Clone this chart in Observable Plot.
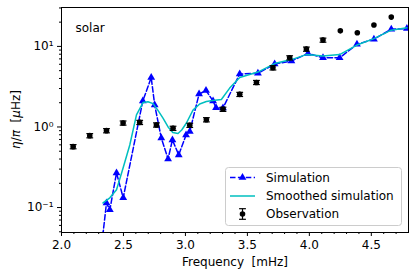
<!DOCTYPE html>
<html>
<head>
<meta charset="utf-8">
<script src="https://cdn.jsdelivr.net/npm/d3@7"></script>
<script src="https://cdn.jsdelivr.net/npm/@observablehq/plot@0.6"></script>
<style>
  html, body { margin: 0; padding: 0; background: white; }
  svg { font-family: "DejaVu Sans", sans-serif; }
</style>
</head>
<body>
<div id="chart"></div>
<script>
// Observation (mHz, µHz) with error
const obsFreq = [2.094, 2.228, 2.363, 2.497, 2.631, 2.766, 2.900, 3.035, 3.169, 3.303, 3.438, 3.573, 3.706, 3.841, 3.976, 4.110, 4.250, 4.387, 4.521, 4.661];
const obsEta  = [0.570, 0.780, 0.900, 1.12, 1.14, 1.06, 0.963, 1.05, 1.23, 1.66, 2.54, 3.57, 5.43, 7.22, 9.26, 11.97, 15.6, 14.8, 18.4, 23.1];
const obsErr  = [0.034, 0.047, 0.054, 0.067, 0.068, 0.064, 0.058, 0.063, 0.074, 0.1, 0.15, 0.21, 0.33, 0.43, 0.55, 0.7, 0, 0, 0, 0];

// Simulation
const simFreq = [2.333, 2.363, 2.390, 2.444, 2.498, 2.656, 2.724, 2.752, 2.805, 2.860, 2.895, 2.946, 3.005, 3.035, 3.110, 3.166, 3.223, 3.247, 3.303, 3.438, 3.585, 3.720, 3.855, 3.989, 4.110, 4.244, 4.384, 4.521, 4.661, 4.787];
const simEta  = [0.0446, 0.114, 0.0936, 0.269, 0.132, 2.10, 4.11, 1.87, 0.731, 0.401, 0.690, 0.450, 0.796, 0.880, 2.56, 2.83, 2.10, 1.73, 1.72, 4.54, 4.63, 6.04, 6.58, 8.19, 7.22, 7.22, 10.6, 12.3, 16.3, 16.7];

// Smoothed simulation
const smoothFreq = [2.335, 2.390, 2.444, 2.497, 2.551, 2.605, 2.658, 2.698, 2.739, 2.777, 2.819, 2.860, 2.898, 2.940, 2.970, 3.008, 3.061, 3.115, 3.169, 3.220, 3.290, 3.357, 3.438, 3.585, 3.720, 3.855, 3.976, 4.110, 4.244, 4.384, 4.521, 4.661, 4.787];
const smoothEta  = [0.114, 0.132, 0.166, 0.310, 0.598, 1.41, 2.01, 2.06, 1.95, 1.62, 1.29, 1.00, 0.855, 0.831, 0.918, 1.12, 1.62, 1.93, 2.07, 2.13, 2.19, 3.04, 4.11, 4.80, 6.12, 6.86, 7.91, 7.59, 7.91, 10.4, 12.5, 15.9, 17.0];

const xMajor = [2.0, 2.5, 3.0, 3.5, 4.0, 4.5];
const yMajor = [0.1, 1, 10];
const yLabels = ["10⁻¹", "10⁰", "10¹"];

const obs = obsFreq.map((f, i) => ({f, eta: obsEta[i], lo: obsEta[i] - obsErr[i], hi: obsEta[i] + obsErr[i], err: obsErr[i]}));
const sim = simFreq.map((f, i) => ({f, eta: simEta[i]}));
const smooth = smoothFreq.map((f, i) => ({f, eta: smoothEta[i]}));
const obsWithErr = obs.filter(d => d.err > 0);

const xMinor = d3.range(20, 48).map(v => v / 10).filter(v => !xMajor.some(m => Math.abs(m - v) < 1e-9));
const yMinor = [];
for (const dec of [0.01, 0.1, 1, 10]) for (let k = 2; k <= 9; k++) { const v = k * dec; if (v >= 0.049 && v <= 30.4) yMinor.push(v); }

const capSymbol = {
  draw(ctx, size) {
    const r = Math.sqrt(size / Math.PI);
    ctx.moveTo(-r, 0);
    ctx.lineTo(r, 0);
  }
};

const simColor = "#0000ff";
const smoothColor = "#00bfbf";

const chart = Plot.plot({
  width: 416,
  height: 275,
  marginLeft: 61,
  marginRight: 8,
  marginTop: 7,
  marginBottom: 43,
  style: {fontFamily: "DejaVu Sans, sans-serif", fontSize: "12px", color: "black", background: "white", overflow: "visible"},
  x: {domain: [2.0, 4.8]},
  y: {type: "log", domain: [0.049, 30.4]},
  marks: [
    Plot.axisX({ticks: xMinor, tickSize: 2, tickFormat: () => "", label: null}),
    Plot.axisX({ticks: xMajor, tickSize: 4, tickPadding: 4, tickFormat: d => d.toFixed(1), label: null, fontSize: 12}),
    Plot.axisY({ticks: yMinor, tickSize: 2, tickFormat: () => "", label: null}),
    Plot.axisY({ticks: yMajor, tickSize: 4, tickPadding: 4, tickFormat: d => yLabels[yMajor.indexOf(d)], label: null, fontSize: 12}),
    Plot.line(sim, {x: "f", y: "eta", stroke: simColor, strokeWidth: 1.5, strokeDasharray: "5.5,2.4", clip: true}),
    Plot.dot(sim, {x: "f", y: "eta", symbol: "triangle", r: 2.9, fill: simColor, stroke: "none", clip: true}),
    Plot.line(smooth, {x: "f", y: "eta", stroke: smoothColor, strokeWidth: 1.5, clip: true}),
    Plot.ruleX(obsWithErr, {x: "f", y1: "lo", y2: "hi", stroke: "black", strokeWidth: 1.2}),
    Plot.dot(obsWithErr, {x: "f", y: "lo", symbol: capSymbol, r: 3.4, stroke: "black", strokeWidth: 1.2, fill: "none"}),
    Plot.dot(obsWithErr, {x: "f", y: "hi", symbol: capSymbol, r: 3.4, stroke: "black", strokeWidth: 1.2, fill: "none"}),
    Plot.dot(obs, {x: "f", y: "eta", r: 2.8, fill: "black", stroke: "none"}),
    Plot.frame({stroke: "black", strokeWidth: 1}),
    Plot.text(["solar"], {frameAnchor: "top-left", dx: 14, dy: 21, textAnchor: "start", lineAnchor: "middle", fontSize: 12, fill: "black"}),
    Plot.text(["Frequency  [mHz]"], {frameAnchor: "bottom", dy: 29.5, lineAnchor: "middle", fontSize: 12, fill: "black"})
  ]
});

document.getElementById("chart").appendChild(chart);

// Y axis label and legend
const svg = d3.select(chart);
const ylab = svg.append("text")
  .attr("transform", "translate(16,119.5) rotate(-90)")
  .attr("text-anchor", "middle")
  .attr("dy", "0.35em")
  .attr("font-size", 12)
  .attr("fill", "black")
  .style("white-space", "pre");
ylab.append("tspan").attr("font-style", "italic").text("η");
ylab.append("tspan").text("/");
ylab.append("tspan").attr("font-style", "italic").text("π");
ylab.append("tspan").text("  [");
ylab.append("tspan").attr("font-style", "italic").text("μ");
ylab.append("tspan").text("Hz]");

const lg = svg.append("g").attr("text-anchor", "start");
lg.append("rect").attr("x", 225.5).attr("y", 167.5).attr("width", 176).attr("height", 58).attr("rx", 3)
  .attr("fill", "white").attr("fill-opacity", 0.8).attr("stroke", "#cccccc").attr("stroke-width", 1);
const rows = [177.5, 196, 214];
const hx1 = 230, hx2 = 255, hxm = 242.5, tx = 266;
lg.append("line").attr("x1", hx1).attr("x2", hx2).attr("y1", rows[0]).attr("y2", rows[0])
  .attr("stroke", simColor).attr("stroke-width", 1.5).attr("stroke-dasharray", "5.5,2.4");
lg.append("path").attr("d", d3.symbol(d3.symbolTriangle, Math.PI * 2.9 * 2.9)()).attr("transform", `translate(${hxm},${rows[0]})`).attr("fill", simColor);
lg.append("line").attr("x1", hx1).attr("x2", hx2).attr("y1", rows[1]).attr("y2", rows[1])
  .attr("stroke", smoothColor).attr("stroke-width", 1.5);
lg.append("line").attr("x1", hxm).attr("x2", hxm).attr("y1", rows[2] - 5.3).attr("y2", rows[2] + 5.3).attr("stroke", "black").attr("stroke-width", 1.2);
lg.append("line").attr("x1", hxm - 3.4).attr("x2", hxm + 3.4).attr("y1", rows[2] - 5.3).attr("y2", rows[2] - 5.3).attr("stroke", "black").attr("stroke-width", 1.2);
lg.append("line").attr("x1", hxm - 3.4).attr("x2", hxm + 3.4).attr("y1", rows[2] + 5.3).attr("y2", rows[2] + 5.3).attr("stroke", "black").attr("stroke-width", 1.2);
lg.append("circle").attr("cx", hxm).attr("cy", rows[2]).attr("r", 2.8).attr("fill", "black");
["Simulation", "Smoothed simulation", "Observation"].forEach((t, i) => {
  lg.append("text").attr("x", tx).attr("y", rows[i]).attr("dy", "0.35em").attr("text-anchor", "start").attr("font-size", 12).attr("fill", "black").text(t);
});
</script>
</body>
</html>
